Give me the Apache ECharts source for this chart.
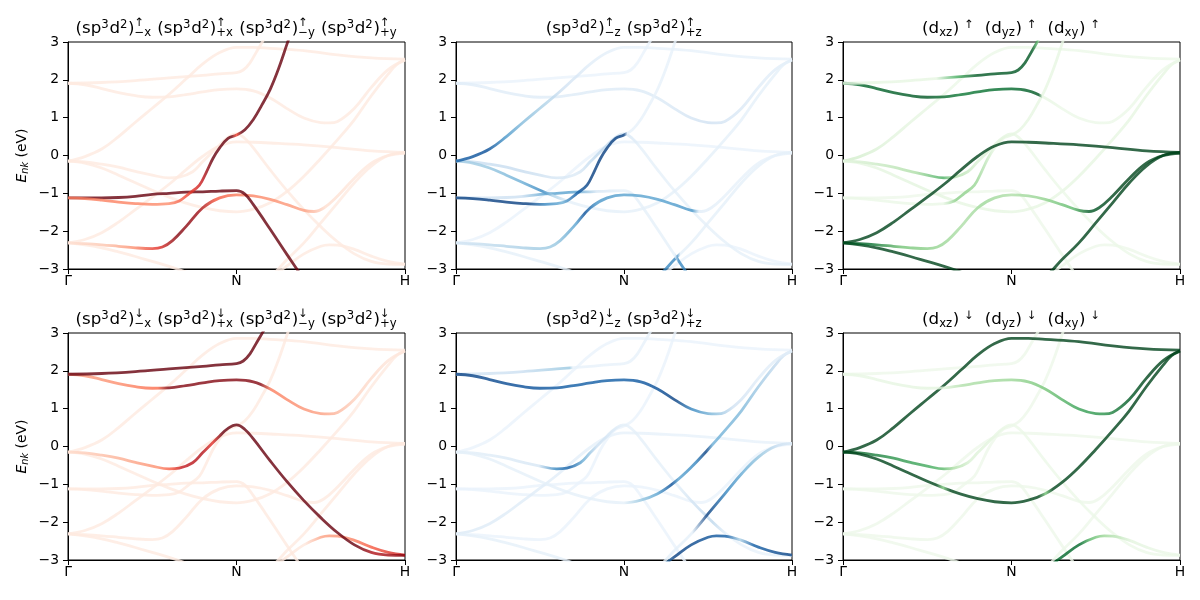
<!DOCTYPE html>
<html><head><meta charset="utf-8">
<script src="https://cdn.jsdelivr.net/npm/echarts@6.0.0/dist/echarts.min.js"></script>
<style>html,body{margin:0;padding:0;background:#fff;} #c{width:1200px;height:600px;}</style>
</head><body><div id="c"></div>
<script>
const FONT = 'DejaVu Sans';
// ---- axes ----
const kTicks = [0, 0.5, 1];
const kLabels = ['Γ', 'N', 'H'];
const eMin = -3, eMax = 3, eStep = 1;

// ---- bands: [k, E(eV)] ----
const bandG1 = [[0,-2.31],[0.05,-2.22],[0.1,-2.04],[0.15,-1.76],[0.2,-1.43],[0.25,-1.1],[0.3,-0.76],[0.35,-0.38],[0.4,-0.02],[0.45,0.25],[0.5,0.36],[0.55,0.35],[0.6,0.33],[0.7,0.28],[0.8,0.21],[0.9,0.12],[1,0.08]];
const bandG2 = [[0,-2.31],[0.05,-2.36],[0.1,-2.44],[0.15,-2.55],[0.2,-2.67],[0.25,-2.8],[0.3,-2.93],[0.35,-3.08],[0.4,-3.25],[0.45,-3.4],[0.5,-3.45],[0.55,-3.4],[0.6,-3.2],[0.65,-2.75],[0.7,-2.31],[0.75,-1.78],[0.8,-1.25],[0.85,-0.72],[0.9,-0.28],[0.95,0.0],[1,0.08]];
const bandG3 = [[0,-2.31],[0.05,-2.33],[0.1,-2.36],[0.15,-2.4],[0.2,-2.44],[0.25,-2.46],[0.28,-2.42],[0.31,-2.25],[0.35,-1.88],[0.4,-1.38],[0.45,-1.12],[0.5,-1.04],[0.55,-1.07],[0.6,-1.16],[0.65,-1.3],[0.7,-1.45],[0.73,-1.48],[0.76,-1.38],[0.8,-1.07],[0.85,-0.6],[0.9,-0.2],[0.95,0.0],[1,0.06]];
const bandR1 = [[0,-1.12],[0.1,-1.12],[0.15,-1.11],[0.2,-1.08],[0.25,-1.03],[0.3,-1.0],[0.35,-0.97],[0.4,-0.96],[0.45,-0.94],[0.5,-0.93],[0.525,-1.02],[0.55,-1.3],[0.6,-1.95],[0.65,-2.62],[0.7,-3.25],[0.75,-3.7],[0.85,-4.1],[1,-4.3]];
const bandU5 = [[0,-1.12],[0.05,-1.14],[0.1,-1.18],[0.15,-1.23],[0.2,-1.27],[0.25,-1.29],[0.3,-1.27],[0.33,-1.2],[0.36,-1.0],[0.39,-0.78],[0.41,-0.45],[0.43,-0.08],[0.45,0.2],[0.475,0.45],[0.5,0.54],[0.525,0.68],[0.55,0.95],[0.575,1.33],[0.6,1.75],[0.625,2.3],[0.65,2.95],[0.675,3.6],[0.7,4.2],[0.8,5.2],[1,5.8]];
const bandDa = [[0,-0.15],[0.05,-0.03],[0.1,0.17],[0.15,0.5],[0.2,0.88],[0.25,1.25],[0.3,1.62],[0.35,2.02],[0.4,2.42],[0.45,2.72],[0.5,2.86],[0.55,2.86],[0.6,2.83],[0.7,2.77],[0.8,2.66],[0.9,2.58],[1,2.55]];
const bandDb = [[0,-0.15],[0.05,-0.2],[0.1,-0.33],[0.15,-0.52],[0.2,-0.72],[0.25,-0.92],[0.3,-1.1],[0.35,-1.26],[0.4,-1.38],[0.45,-1.46],[0.5,-1.49],[0.55,-1.42],[0.6,-1.25],[0.65,-0.95],[0.7,-0.55],[0.75,-0.08],[0.8,0.42],[0.85,0.95],[0.9,1.58],[0.95,2.15],[0.975,2.4],[1,2.52]];
const bandD2 = [[0,-0.15],[0.05,-0.17],[0.1,-0.23],[0.15,-0.31],[0.2,-0.42],[0.25,-0.52],[0.3,-0.59],[0.33,-0.57],[0.37,-0.43],[0.4,-0.16],[0.45,0.28],[0.475,0.48],[0.5,0.57],[0.525,0.45],[0.55,0.2],[0.6,-0.38],[0.65,-0.93],[0.7,-1.43],[0.75,-1.88],[0.8,-2.28],[0.85,-2.6],[0.9,-2.8],[0.95,-2.87],[1,-2.88]];
const bandDc = [[0,1.91],[0.05,1.87],[0.1,1.77],[0.15,1.66],[0.2,1.58],[0.25,1.54],[0.3,1.55],[0.35,1.61],[0.4,1.68],[0.45,1.74],[0.5,1.76],[0.55,1.71],[0.6,1.52],[0.65,1.24],[0.7,0.99],[0.75,0.87],[0.775,0.86],[0.8,0.9],[0.85,1.25],[0.9,1.8],[0.95,2.27],[1,2.53]];
const bandDd = [[0,1.91],[0.1,1.93],[0.2,1.98],[0.3,2.05],[0.4,2.12],[0.45,2.16],[0.5,2.19],[0.52,2.26],[0.54,2.45],[0.56,2.75],[0.58,3.05],[0.6,3.35],[0.7,4.4],[1,5.2]];
const bandDe = [[0,-5],[0.4,-4.4],[0.5,-4.0],[0.55,-3.6],[0.6,-3.25],[0.65,-2.92],[0.7,-2.6],[0.75,-2.4],[0.775,-2.36],[0.8,-2.37],[0.85,-2.48],[0.9,-2.66],[0.95,-2.8],[1,-2.87]];

const bands = {G1:bandG1, G2:bandG2, G3:bandG3, R1:bandR1, U5:bandU5, Da:bandDa, Db:bandDb, D2:bandD2, Dc:bandDc, Dd:bandDd, De:bandDe};
const BASE_W = 0.06;

// ---- projection weights along k: [k, w] ----
const wUpXY = {
  G3: [[0,0.1],[0.12,0.2],[0.2,0.35],[0.27,0.6],[0.33,0.85],[0.39,0.8],[0.44,0.5],[0.5,0.4],[0.6,0.35],[0.7,0.3],[0.76,0.12],[0.85,0.07]],
  R1: [[0,0.95]],
  U5: [[0,0.4],[0.2,0.38],[0.3,0.35],[0.36,0.55],[0.4,0.7],[0.43,0.92],[0.485,0.95],[0.5,0.55],[0.515,0.95]]
};
const wUpZ = {
  Da: [[0,0.75],[0.1,0.8],[0.15,0.55],[0.2,0.4],[0.26,0.3],[0.32,0.18],[0.4,0.1],[0.5,0.07]],
  Db: [[0,0.3],[0.1,0.35],[0.2,0.45],[0.26,0.6],[0.29,0.3],[0.34,0.08]],
  D2: [[0,0.2],[0.2,0.22],[0.3,0.15],[0.36,0.12],[0.42,0.25],[0.48,0.2],[0.55,0.08]],
  U5: [[0,0.85],[0.22,0.85],[0.27,0.6],[0.32,0.45],[0.36,0.75],[0.4,0.85],[0.5,0.85],[0.51,0.07]],
  R1: [[0,0.15],[0.2,0.2],[0.27,0.5],[0.36,0.5],[0.42,0.15],[0.5,0.08],[0.65,0.08],[0.66,0.6],[0.7,0.6]],
  G3: [[0,0.15],[0.2,0.3],[0.3,0.35],[0.36,0.5],[0.385,0.8],[0.42,0.55],[0.5,0.5],[0.6,0.5],[0.7,0.55],[0.72,0.1],[0.8,0.07]],
  G2: [[0,0.08],[0.6,0.08],[0.615,0.6],[0.655,0.6],[0.665,0.08]],
  Dc: [[0,0.1],[0.6,0.12],[0.75,0.18],[0.9,0.1]]
};
const wUpT2g = {
  G1: [[0,0.9]],
  G2: [[0,0.9]],
  G3: [[0,0.9],[0.08,0.8],[0.18,0.45],[0.3,0.35],[0.36,0.3],[0.42,0.35],[0.5,0.3],[0.6,0.38],[0.68,0.5],[0.73,0.85],[0.8,0.9]],
  U5: [[0,0.07],[0.3,0.08],[0.34,0.4],[0.4,0.35],[0.45,0.1]],
  Da: [[0,0.2],[0.15,0.12],[0.35,0.07]],
  D2: [[0,0.1],[0.22,0.3],[0.3,0.55],[0.33,0.3],[0.4,0.15],[0.5,0.1],[0.55,0.07]],
  Db: [[0,0.1],[0.25,0.12],[0.35,0.1]],
  Dc: [[0,0.8],[0.25,0.85],[0.35,0.75],[0.5,0.8],[0.58,0.85],[0.59,0.1],[0.65,0.07]],
  Dd: [[0,0.1],[0.28,0.1],[0.34,0.55],[0.4,0.85],[0.56,0.85],[0.575,0.5],[0.585,0.08]]
};
const wDnXY = {
  Dd: [[0,0.95]],
  Dc: [[0,0.3],[0.15,0.35],[0.27,0.45],[0.3,0.85],[0.57,0.85],[0.6,0.4],[0.75,0.3],[0.85,0.15],[0.95,0.08]],
  D2: [[0,0.12],[0.15,0.25],[0.27,0.35],[0.31,0.5],[0.34,0.7],[0.4,0.75],[0.43,0.6],[0.46,0.9],[0.5,0.95],[0.85,0.95],[0.9,0.75],[0.95,0.8],[1,0.85]],
  De: [[0,0.07],[0.7,0.07],[0.75,0.3],[0.82,0.35],[0.9,0.5],[1,0.7]]
};
const wDnZ = {
  Dc: [[0,0.85],[0.2,0.8],[0.35,0.75],[0.5,0.75],[0.6,0.8],[0.65,0.85],[0.7,0.6],[0.76,0.4],[0.82,0.18],[0.9,0.1]],
  Dd: [[0,0.15],[0.2,0.2],[0.34,0.35],[0.35,0.07]],
  Db: [[0,0.08],[0.5,0.08],[0.55,0.35],[0.6,0.5],[0.64,0.8],[0.66,0.5],[0.71,0.6],[0.74,0.85],[0.76,0.45],[0.85,0.4],[0.95,0.22],[1,0.12]],
  G2: [[0,0.08],[0.7,0.08],[0.745,0.85],[0.8,0.6],[0.85,0.45],[0.9,0.35],[0.95,0.2],[1,0.12]],
  D2: [[0,0.08],[0.25,0.15],[0.3,0.6],[0.34,0.75],[0.38,0.45],[0.42,0.2],[0.5,0.08],[0.65,0.08],[0.72,0.2],[0.76,0.25],[0.8,0.07]],
  De: [[0,0.5],[0.6,0.5],[0.65,0.85],[0.8,0.75],[0.84,0.3],[0.88,0.75],[1,0.85]],
  G1: [[0,0.12],[0.3,0.1],[0.45,0.07]]
};
const wDnT2g = {
  Da: [[0,0.9]],
  Db: [[0,0.9],[0.28,0.9],[0.3,0.45],[0.32,0.9],[0.58,0.9],[0.6,0.45],[0.62,0.9]],
  D2: [[0,0.85],[0.15,0.65],[0.27,0.55],[0.3,0.5],[0.33,0.3],[0.38,0.15],[0.45,0.1],[0.5,0.07]],
  Dc: [[0,0.08],[0.3,0.12],[0.36,0.3],[0.5,0.35],[0.6,0.45],[0.7,0.6],[0.77,0.65],[0.85,0.85],[0.9,0.9]],
  De: [[0,0.85],[0.7,0.8],[0.73,0.5],[0.77,0.35],[0.85,0.12],[0.95,0.08]]
};

// ---- colormaps (matplotlib sequential) ----
const CMAPS = {
  Reds: ['#fff5f0','#fee0d2','#fcbba1','#fc9272','#fb6a4a','#ef3b2c','#cb181d','#a50f15','#67000d'],
  Blues: ['#f7fbff','#deebf7','#c6dbef','#9ecae1','#6baed6','#4292c6','#2171b5','#08519c','#08306b'],
  Greens: ['#f7fcf5','#e5f5e0','#c7e9c0','#a1d99b','#74c476','#41ab5d','#238b45','#006d2c','#00441b']
};
const ALPHA = 0.8, GAIN = 1 / 0.9;
function hex(h){return [parseInt(h.substr(1,2),16),parseInt(h.substr(3,2),16),parseInt(h.substr(5,2),16)];}
function cmap(name, w) {
  const c = CMAPS[name]; const n = c.length - 1;
  w = Math.max(0, Math.min(1, w * GAIN));
  const p = w * n; const i = Math.min(n - 1, Math.floor(p)); const t = p - i;
  const a = hex(c[i]), b = hex(c[i + 1]);
  const m = a.map((v, j) => Math.round(v + (b[j] - v) * t));
  return 'rgba(' + m[0] + ',' + m[1] + ',' + m[2] + ',' + ALPHA + ')';
}
function lineColor(cm, stops) {
  if (!stops) return cmap(cm, BASE_W);
  if (stops.length === 1) return cmap(cm, stops[0][1]);
  return new echarts.graphic.LinearGradient(0, 0, 1, 0,
    stops.map(s => ({offset: s[0], color: cmap(cm, s[1])})));
}

// ---- titles ----
function sp3d2(sign, axis, arrow) {
  return [{t:'(sp'},{sup:'3'},{t:'d'},{sup:'2'},{t:')'},{sup:arrow, sub:sign + axis}];
}
function xyTitle(arrow) {
  return [].concat(sp3d2('−','x',arrow),[{sp:1}],sp3d2('+','x',arrow),[{sp:1}],sp3d2('−','y',arrow),[{sp:1}],sp3d2('+','y',arrow));
}
function zTitle(arrow) {
  return [].concat(sp3d2('−','z',arrow),[{sp:1}],sp3d2('+','z',arrow));
}
function dTitle(arrow) {
  const g = s => [{t:'(d'},{sub:s},{t:')'},{gap:0.3},{sup:arrow}];
  return [].concat(g('xz'),[{gap:0.6}],g('yz'),[{gap:0.6}],g('xy'));
}

const mctx = document.createElement('canvas').getContext('2d');
function measure(t, size) { mctx.font = size + 'px "' + FONT + '"'; return mctx.measureText(t).width; }

function layoutTitle(tokens, cx, baseline, f) {
  const s = 0.7 * f; let x = 0; const items = [];
  for (const tok of tokens) {
    if (tok.t) { items.push({text: tok.t, x: x, b: baseline, size: f}); x += measure(tok.t, f); }
    else if (tok.sp) { x += measure(' ', f); }
    else if (tok.gap) { x += tok.gap * f; }
    else if (tok.sup && tok.sub) {
      items.push({text: tok.sup, x: x, b: baseline - 0.42 * f, size: s});
      items.push({text: tok.sub, x: x, b: baseline + 0.17 * f, size: s});
      x += Math.max(measure(tok.sup, s), measure(tok.sub, s)) + 0.05 * f;
    } else if (tok.sup) {
      items.push({text: tok.sup, x: x, b: baseline - 0.32 * f, size: s});
      x += measure(tok.sup, s) + 0.04 * f;
    } else if (tok.sub) {
      items.push({text: tok.sub, x: x, b: baseline + 0.17 * f, size: s});
      x += measure(tok.sub, s) + 0.04 * f;
    }
  }
  const off = cx - x / 2;
  return items.map(it => ({
    type: 'text', silent: true, x: it.x + off, y: it.b - 0.297 * it.size,
    style: {text: it.text, fontFamily: FONT, fontSize: it.size, fill: '#000', align: 'left', verticalAlign: 'middle'}
  }));
}

// ---- panels ----
const TITLE_F = 16.67, TICK_F = 13.9;
const panels = [
  {left: 68,  top: 42,  width: 337, cm: 'Reds',   w: wUpXY,  title: xyTitle('↑'), ylab: true},
  {left: 456, top: 42,  width: 336, cm: 'Blues',  w: wUpZ,   title: zTitle('↑')},
  {left: 843, top: 42,  width: 337, cm: 'Greens', w: wUpT2g, title: dTitle('↑')},
  {left: 68,  top: 333, width: 337, cm: 'Reds',   w: wDnXY,  title: xyTitle('↓'), ylab: true},
  {left: 456, top: 333, width: 336, cm: 'Blues',  w: wDnZ,   title: zTitle('↓')},
  {left: 843, top: 333, width: 337, cm: 'Greens', w: wDnT2g, title: dTitle('↓')}
];
const PH = 227;

const grids = [], xAxes = [], yAxes = [], series = [], graphics = [];
panels.forEach((p, i) => {
  grids.push({left: p.left, top: p.top, width: p.width, height: PH, show: true,
    borderColor: '#000', borderWidth: 1, backgroundColor: 'transparent', containLabel: false, outerBoundsMode: 'none'});
  xAxes.push({type: 'value', gridIndex: i, min: kTicks[0], max: kTicks[kTicks.length - 1], interval: 0.5,
    axisLine: {show: true, onZero: false, lineStyle: {color: '#000', width: 1}},
    axisTick: {show: true, length: 5, lineStyle: {color: '#000', width: 1}},
    splitLine: {show: false},
    axisLabel: {margin: 5, color: '#000', fontFamily: FONT, fontSize: TICK_F,
      formatter: v => { const j = kTicks.findIndex(t => Math.abs(t - v) < 1e-6); return j >= 0 ? kLabels[j] : ''; }}});
  const ya = {type: 'value', gridIndex: i, min: eMin, max: eMax, interval: eStep,
    axisLine: {show: true, onZero: false, lineStyle: {color: '#000', width: 1}},
    axisTick: {show: true, length: 5, lineStyle: {color: '#000', width: 1}},
    splitLine: {show: false},
    axisLabel: {margin: 9, color: '#000', fontFamily: FONT, fontSize: TICK_F,
      formatter: v => v < 0 ? '−' + (-v) : String(v)}};
  if (p.ylab) {
    ya.name = '{e|E}{s|nk}{b| (eV)}';
    ya.nameLocation = 'middle'; ya.nameRotate = 90; ya.nameGap = 38;
    ya.nameTextStyle = {color: '#000', fontFamily: FONT, fontSize: TICK_F, rich: {
      e: {fontStyle: 'italic', fontFamily: FONT, fontSize: TICK_F, color: '#000', lineHeight: 16, verticalAlign: 'middle'},
      s: {fontStyle: 'italic', fontFamily: FONT, fontSize: 9.7, color: '#000', lineHeight: 10, verticalAlign: 'bottom'},
      b: {fontFamily: FONT, fontSize: TICK_F, color: '#000', lineHeight: 16, verticalAlign: 'middle'}}};
  }
  yAxes.push(ya);
  const order = Object.keys(bands).map(name => {
    const st = p.w[name];
    const mx = st ? Math.max.apply(null, st.map(s => s[1])) : BASE_W;
    return {name, mx};
  }).sort((a, b) => a.mx - b.mx);
  order.forEach((o, j) => {
    series.push({type: 'line', xAxisIndex: i, yAxisIndex: i, data: bands[o.name],
      smooth: 0.4, symbol: 'none', showSymbol: false, silent: true, animation: false, clip: true,
      z: 2 + j * 0.01,
      lineStyle: {width: 2.8, color: lineColor(p.cm, p.w[o.name]), cap: 'butt', join: 'round'}});
  });
  const baseline = p.top - 8.7;
  layoutTitle(p.title, p.left + p.width / 2, baseline, TITLE_F).forEach(g => graphics.push(g));
});

const chart = echarts.init(document.getElementById('c'), null, {renderer: 'canvas'});
chart.setOption({
  animation: false, backgroundColor: '#fff',
  grid: grids, xAxis: xAxes, yAxis: yAxes, series: series,
  graphic: {elements: graphics}
});
</script></body></html>
